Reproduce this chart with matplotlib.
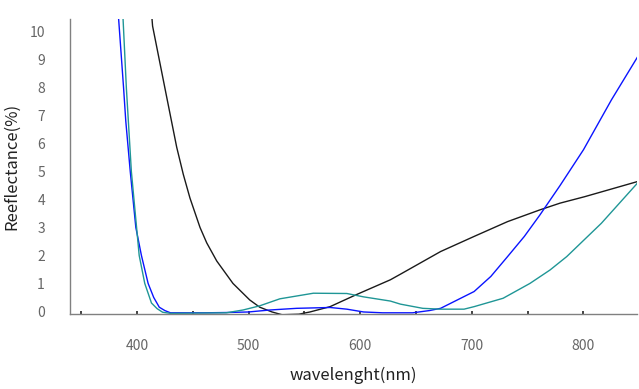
import matplotlib
matplotlib.use("Agg")
import matplotlib.pyplot as plt
from matplotlib.ticker import MultipleLocator

plt.rcParams['font.family'] = ['Noto Sans CJK JP', 'DejaVu Sans']

# reflectance spectra
blue_wl = [383.5, 388, 390, 394, 399, 404, 410, 415, 420, 425, 430, 460, 480, 500,
           519, 543, 573, 588, 603, 620, 647, 662, 672, 702, 717, 732, 747, 761,
           779, 800, 825, 850]
blue_r = [10.5, 8.0, 6.8, 5.0, 3.0, 2.0, 1.0, 0.5, 0.15, 0.03, -0.05, -0.05, -0.04,
          -0.02, 0.05, 0.11, 0.14, 0.08, -0.02, -0.05, -0.05, 0.03, 0.11, 0.71, 1.25,
          1.96, 2.68, 3.45, 4.5, 5.78, 7.56, 9.2]

teal_wl = [387.5, 390.5, 395, 402, 407, 413, 418, 423, 430, 480, 495, 510, 528, 558,
           588, 603, 627, 636, 656, 672, 693, 702, 728, 752, 770, 785, 816, 850]
teal_r = [10.5, 8.0, 5.0, 2.0, 1.0, 0.3, 0.1, -0.03, -0.07, -0.05, 0.05, 0.2, 0.45,
          0.65, 0.64, 0.52, 0.37, 0.26, 0.11, 0.08, 0.08, 0.17, 0.47, 1.0, 1.48,
          1.96, 3.15, 4.66]

black_wl = [413.5, 414, 426.6, 435.6, 441.5, 447.5, 456.5, 462.5, 471.5, 486, 501,
            510, 521, 530, 545, 555, 573, 596, 627, 636, 672, 702, 732, 761, 779,
            801, 850]
black_r = [10.45, 10.2, 7.67, 5.87, 4.9, 4.05, 3.0, 2.45, 1.8, 1.0, 0.41,
           0.15, -0.02, -0.12, -0.1, -0.02, 0.17, 0.59, 1.13, 1.33, 2.14, 2.68, 3.21,
           3.63, 3.87, 4.1, 4.66]

fig = plt.figure(figsize=(6.39, 3.89), dpi=100)
ax = fig.add_axes([0.1095, 0.193, 0.8875, 0.758])

ax.plot(black_wl, black_r, color='#1a1a1a', lw=1.0)
ax.plot(blue_wl, blue_r, color='#0a14ff', lw=1.0)
ax.plot(teal_wl, teal_r, color='#1f9696', lw=1.0)

ax.set_xlim(340, 848)
ax.set_ylim(-0.09, 10.45)

ax.set_yticks(range(0, 11))
ax.set_xticks([400, 500, 600, 700, 800])
ax.xaxis.set_minor_locator(MultipleLocator(50))

for side in ['top', 'right']:
    ax.spines[side].set_visible(False)
for side in ['left', 'bottom']:
    ax.spines[side].set_color('#808080')
    ax.spines[side].set_linewidth(1.0)

ax.tick_params(axis='y', length=0, pad=18, labelsize=10, labelcolor='#666666')
ax.tick_params(axis='x', which='major', length=2, width=1.2, color='#222222',
               direction='in', pad=18, labelsize=10, labelcolor='#666666')
ax.tick_params(axis='x', which='minor', length=2, width=1.2, color='#222222',
               direction='in')

ax.set_xlabel('wavelenght(nm)', fontsize=12, color='#222222', labelpad=10)
ax.set_ylabel('Reeflectance(%)', fontsize=12, color='#222222', labelpad=7)

fig.savefig('out.png', dpi=100)
